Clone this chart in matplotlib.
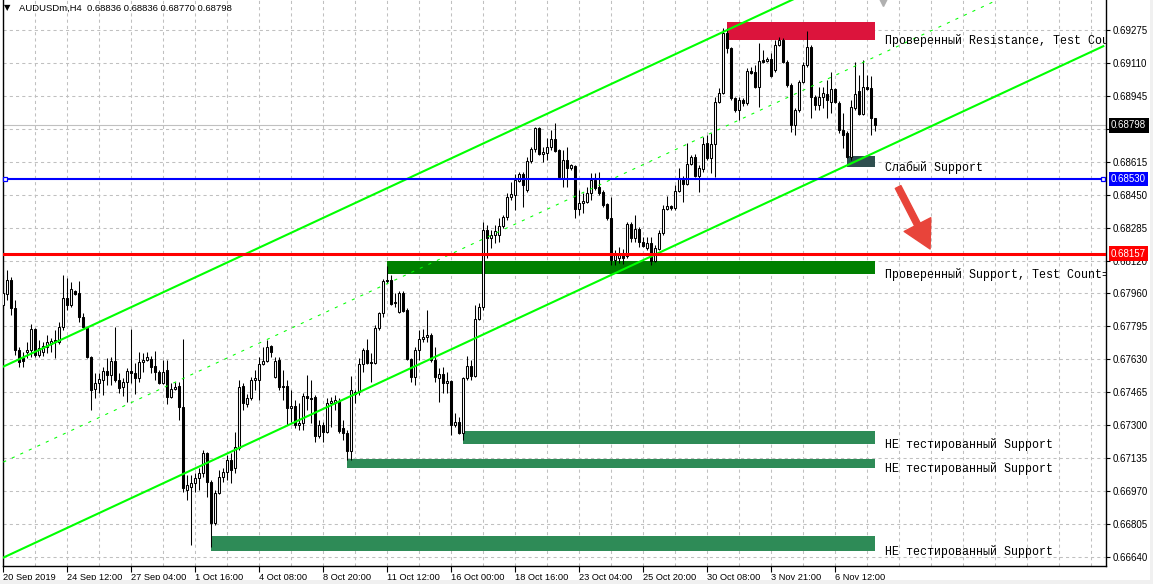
import matplotlib
matplotlib.use("Agg")
import matplotlib.pyplot as plt
from matplotlib.patches import Rectangle
from matplotlib.ticker import MultipleLocator, FixedLocator

# AUDUSDm H4 bars (bar 0 = 20 Sep 2019)
opens = [
    0.67900, 0.67955, 0.68025, 0.67885, 0.67675, 0.67635, 0.67665, 0.67675, 0.67780, 0.67650,
    0.67665, 0.67690, 0.67705, 0.67725, 0.67715, 0.67790, 0.67935, 0.67900, 0.67970, 0.67960,
    0.67840, 0.67785, 0.67640, 0.67480, 0.67510, 0.67525, 0.67570, 0.67550, 0.67620, 0.67525,
    0.67490, 0.67515, 0.67570, 0.67560, 0.67535, 0.67615, 0.67625, 0.67630, 0.67595, 0.67565,
    0.67510, 0.67575, 0.67440, 0.67480, 0.67495, 0.67390, 0.66975, 0.66990, 0.67010, 0.67035,
    0.67060, 0.67160, 0.67015, 0.66810, 0.66960, 0.67040, 0.67065, 0.67125, 0.67085, 0.67185,
    0.67495, 0.67405, 0.67435, 0.67525, 0.67525, 0.67605, 0.67620, 0.67695, 0.67540, 0.67625,
    0.67495, 0.67495, 0.67385, 0.67395, 0.67300, 0.67310, 0.67445, 0.67435, 0.67440, 0.67245,
    0.67300, 0.67265, 0.67410, 0.67410, 0.67420, 0.67285, 0.67260, 0.67170, 0.67465, 0.67465,
    0.67605, 0.67675, 0.67615, 0.67610, 0.67785, 0.67860, 0.68025, 0.68025, 0.67910, 0.67865,
    0.67960, 0.67875, 0.67630, 0.67540, 0.67675, 0.67730, 0.67740, 0.67750, 0.67625, 0.67535,
    0.67555, 0.67510, 0.67520, 0.67300, 0.67315, 0.67260, 0.67535, 0.67595, 0.67545, 0.67830,
    0.67890, 0.68275, 0.68235, 0.68250, 0.68250, 0.68295, 0.68340, 0.68440, 0.68450, 0.68520,
    0.68555, 0.68475, 0.68620, 0.68680, 0.68785, 0.68655, 0.68660, 0.68690, 0.68730, 0.68675,
    0.68535, 0.68625, 0.68585, 0.68595, 0.68380, 0.68410, 0.68415, 0.68460, 0.68525, 0.68490,
    0.68465, 0.68405, 0.68335, 0.68125, 0.68135, 0.68160, 0.68145, 0.68305, 0.68235, 0.68280,
    0.68215, 0.68185, 0.68210, 0.68120, 0.68180, 0.68260, 0.68380, 0.68395, 0.68385, 0.68470,
    0.68535, 0.68505, 0.68605, 0.68640, 0.68545, 0.68580, 0.68710, 0.68635, 0.68705, 0.68915,
    0.68960, 0.69260, 0.69185, 0.68935, 0.68875, 0.68925, 0.68910, 0.69070, 0.69065, 0.68990,
    0.69125, 0.69120, 0.69130, 0.69075, 0.69200, 0.69225, 0.69115, 0.69000, 0.68800, 0.68875,
    0.69015, 0.69100, 0.69190, 0.68940, 0.68900, 0.68940, 0.68955, 0.68915, 0.68980, 0.68910,
    0.68775, 0.68760, 0.68640, 0.68885, 0.68970, 0.68855, 0.68990, 0.68985, 0.68836,
]
highs = [
    0.68050, 0.68075, 0.68040, 0.67925, 0.67690, 0.67665, 0.67715, 0.67805, 0.67785, 0.67725,
    0.67715, 0.67750, 0.67735, 0.67775, 0.67815, 0.68050, 0.68035, 0.68015, 0.67975, 0.68020,
    0.67860, 0.67790, 0.67645, 0.67560, 0.67560, 0.67590, 0.67635, 0.67640, 0.67790, 0.67560,
    0.67535, 0.67585, 0.67780, 0.67610, 0.67665, 0.67660, 0.67665, 0.67645, 0.67670, 0.67575,
    0.67625, 0.67625, 0.67510, 0.67515, 0.67515, 0.67730, 0.67050, 0.67050, 0.67060, 0.67085,
    0.67175, 0.67165, 0.67025, 0.66975, 0.67075, 0.67085, 0.67150, 0.67160, 0.67265, 0.67525,
    0.67510, 0.67455, 0.67540, 0.67575, 0.67640, 0.67690, 0.67725, 0.67700, 0.67640, 0.67640,
    0.67575, 0.67525, 0.67475, 0.67425, 0.67410, 0.67460, 0.67550, 0.67525, 0.67450, 0.67325,
    0.67315, 0.67435, 0.67440, 0.67450, 0.67435, 0.67325, 0.67275, 0.67545, 0.67475, 0.67635,
    0.67685, 0.67730, 0.67660, 0.67800, 0.67865, 0.68030, 0.68095, 0.68050, 0.67960, 0.67970,
    0.67970, 0.67885, 0.67635, 0.67690, 0.67775, 0.67780, 0.67875, 0.67760, 0.67690, 0.67585,
    0.67590, 0.67565, 0.67525, 0.67360, 0.67340, 0.67540, 0.67645, 0.67625, 0.67900, 0.67910,
    0.68315, 0.68300, 0.68275, 0.68300, 0.68335, 0.68350, 0.68460, 0.68515, 0.68555, 0.68565,
    0.68565, 0.68640, 0.68690, 0.68790, 0.68790, 0.68690, 0.68735, 0.68775, 0.68810, 0.68680,
    0.68675, 0.68690, 0.68605, 0.68600, 0.68475, 0.68460, 0.68490, 0.68560, 0.68560, 0.68565,
    0.68475, 0.68410, 0.68440, 0.68175, 0.68190, 0.68180, 0.68315, 0.68315, 0.68350, 0.68290,
    0.68240, 0.68240, 0.68240, 0.68200, 0.68275, 0.68400, 0.68445, 0.68400, 0.68500, 0.68585,
    0.68545, 0.68710, 0.68650, 0.68655, 0.68600, 0.68740, 0.68750, 0.68760, 0.68940, 0.68985,
    0.69285, 0.69285, 0.69190, 0.68940, 0.68940, 0.68935, 0.69085, 0.69090, 0.69100, 0.69210,
    0.69175, 0.69140, 0.69160, 0.69225, 0.69240, 0.69235, 0.69125, 0.69010, 0.68885, 0.69025,
    0.69115, 0.69270, 0.69200, 0.68950, 0.68990, 0.68990, 0.69025, 0.69065, 0.68985, 0.68920,
    0.68860, 0.68770, 0.68925, 0.69115, 0.69050, 0.69125, 0.69050, 0.69045, 0.68836,
]
lows = [
    0.67775, 0.67925, 0.67850, 0.67650, 0.67590, 0.67590, 0.67635, 0.67640, 0.67640, 0.67640,
    0.67645, 0.67660, 0.67665, 0.67635, 0.67705, 0.67775, 0.67875, 0.67890, 0.67950, 0.67815,
    0.67785, 0.67635, 0.67375, 0.67435, 0.67460, 0.67450, 0.67500, 0.67500, 0.67515, 0.67460,
    0.67445, 0.67415, 0.67510, 0.67455, 0.67515, 0.67565, 0.67620, 0.67560, 0.67525, 0.67505,
    0.67505, 0.67405, 0.67435, 0.67475, 0.67325, 0.66965, 0.66925, 0.66700, 0.66965, 0.66975,
    0.67040, 0.66940, 0.66690, 0.66800, 0.66955, 0.67015, 0.67025, 0.67010, 0.67060, 0.67175,
    0.67375, 0.67390, 0.67425, 0.67475, 0.67425, 0.67600, 0.67615, 0.67640, 0.67535, 0.67475,
    0.67425, 0.67300, 0.67315, 0.67285, 0.67275, 0.67275, 0.67375, 0.67310, 0.67215, 0.67235,
    0.67215, 0.67260, 0.67290, 0.67375, 0.67260, 0.67225, 0.67125, 0.67125, 0.67410, 0.67450,
    0.67565, 0.67605, 0.67515, 0.67605, 0.67775, 0.67840, 0.68010, 0.67900, 0.67890, 0.67860,
    0.67865, 0.67625, 0.67515, 0.67500, 0.67625, 0.67715, 0.67715, 0.67615, 0.67515, 0.67415,
    0.67460, 0.67460, 0.67250, 0.67290, 0.67255, 0.67225, 0.67525, 0.67525, 0.67540, 0.67825,
    0.67875, 0.68135, 0.68185, 0.68210, 0.68215, 0.68285, 0.68325, 0.68425, 0.68375, 0.68515,
    0.68390, 0.68465, 0.68610, 0.68665, 0.68650, 0.68615, 0.68625, 0.68675, 0.68665, 0.68535,
    0.68490, 0.68490, 0.68575, 0.68335, 0.68350, 0.68360, 0.68410, 0.68425, 0.68475, 0.68450,
    0.68390, 0.68325, 0.68100, 0.68100, 0.68110, 0.68105, 0.68135, 0.68215, 0.68215, 0.68190,
    0.68190, 0.68175, 0.68100, 0.68115, 0.68175, 0.68250, 0.68375, 0.68375, 0.68375, 0.68465,
    0.68415, 0.68500, 0.68600, 0.68540, 0.68465, 0.68565, 0.68625, 0.68560, 0.68540, 0.68910,
    0.68955, 0.69160, 0.68925, 0.68865, 0.68825, 0.68895, 0.68900, 0.69055, 0.68985, 0.68890,
    0.69110, 0.69115, 0.69040, 0.69065, 0.69195, 0.69110, 0.68990, 0.68765, 0.68750, 0.68865,
    0.69010, 0.69090, 0.68835, 0.68875, 0.68875, 0.68885, 0.68835, 0.68860, 0.68910, 0.68760,
    0.68685, 0.68635, 0.68625, 0.68875, 0.68850, 0.68850, 0.68975, 0.68750, 0.68770,
]
closes = [
    0.67960, 0.68025, 0.67885, 0.67675, 0.67615, 0.67620, 0.67675, 0.67780, 0.67650, 0.67685,
    0.67695, 0.67715, 0.67720, 0.67715, 0.67790, 0.67935, 0.67900, 0.67980, 0.67955, 0.67840,
    0.67790, 0.67640, 0.67475, 0.67510, 0.67530, 0.67570, 0.67550, 0.67620, 0.67525, 0.67485,
    0.67515, 0.67570, 0.67560, 0.67535, 0.67615, 0.67625, 0.67640, 0.67590, 0.67565, 0.67510,
    0.67565, 0.67440, 0.67480, 0.67490, 0.67390, 0.66985, 0.67000, 0.67010, 0.67035, 0.67060,
    0.67160, 0.67015, 0.66810, 0.66960, 0.67040, 0.67065, 0.67125, 0.67075, 0.67190, 0.67490,
    0.67410, 0.67435, 0.67525, 0.67535, 0.67605, 0.67620, 0.67690, 0.67665, 0.67620, 0.67490,
    0.67490, 0.67385, 0.67395, 0.67300, 0.67310, 0.67445, 0.67435, 0.67430, 0.67245, 0.67300,
    0.67265, 0.67410, 0.67420, 0.67425, 0.67270, 0.67260, 0.67170, 0.67475, 0.67455, 0.67605,
    0.67675, 0.67610, 0.67610, 0.67785, 0.67860, 0.68020, 0.68020, 0.67905, 0.67915, 0.67960,
    0.67870, 0.67630, 0.67540, 0.67675, 0.67730, 0.67740, 0.67750, 0.67625, 0.67540, 0.67555,
    0.67510, 0.67520, 0.67300, 0.67315, 0.67260, 0.67535, 0.67595, 0.67545, 0.67830, 0.67890,
    0.68275, 0.68235, 0.68250, 0.68270, 0.68295, 0.68340, 0.68440, 0.68455, 0.68525, 0.68555,
    0.68500, 0.68620, 0.68680, 0.68785, 0.68655, 0.68665, 0.68690, 0.68730, 0.68670, 0.68540,
    0.68625, 0.68585, 0.68600, 0.68380, 0.68410, 0.68420, 0.68460, 0.68525, 0.68485, 0.68460,
    0.68400, 0.68335, 0.68125, 0.68160, 0.68160, 0.68135, 0.68305, 0.68235, 0.68280, 0.68215,
    0.68195, 0.68210, 0.68120, 0.68185, 0.68260, 0.68380, 0.68395, 0.68385, 0.68470, 0.68535,
    0.68505, 0.68605, 0.68640, 0.68545, 0.68585, 0.68705, 0.68635, 0.68705, 0.68915, 0.68960,
    0.69260, 0.69185, 0.68935, 0.68875, 0.68925, 0.68910, 0.69070, 0.69060, 0.68990, 0.69120,
    0.69115, 0.69130, 0.69045, 0.69200, 0.69225, 0.69115, 0.69000, 0.68800, 0.68875, 0.69015,
    0.69100, 0.69190, 0.68940, 0.68900, 0.68940, 0.68960, 0.68925, 0.68980, 0.68915, 0.68775,
    0.68750, 0.68640, 0.68890, 0.68955, 0.68855, 0.68990, 0.68980, 0.68835, 0.68798,
]

date_ticks = [0, 16, 32, 48, 64, 80, 96, 112, 128, 144, 160, 176, 192, 208]
date_labels = ["20 Sep 2019", "24 Sep 12:00", "27 Sep 04:00", "1 Oct 16:00", "4 Oct 08:00",
               "8 Oct 20:00", "11 Oct 12:00", "16 Oct 00:00", "18 Oct 16:00", "23 Oct 04:00",
               "25 Oct 20:00", "30 Oct 08:00", "3 Nov 21:00", "6 Nov 12:00"]
price_labels = ["0.69275", "0.69110", "0.68945", "0.68780", "0.68615", "0.68450", "0.68285",
                "0.68120", "0.67960", "0.67795", "0.67630", "0.67465", "0.67300", "0.67135",
                "0.66970", "0.66805", "0.66640"]

# supply / demand zones
zone_text = ["Проверенный Resistance, Test Count=2", "Слабый Support",
             "Проверенный Support, Test Count=3", "НЕ тестированный Support",
             "НЕ тестированный Support", "НЕ тестированный Support"]
zone_start = [181, 211, 96, 115, 86, 52]
zone_end = 218
zone_top = [0.69316, 0.68647, 0.68120, 0.67270, 0.67130, 0.66745]
zone_bottom = [0.69225, 0.68592, 0.68055, 0.67205, 0.67085, 0.66670]
zone_colors = ["#dc143c", "#2f4f4f", "#008000", "#2e8b57", "#2e8b57", "#2e8b57"]

# channel (bar index, price at both ends)
channel_x = [0, 275]
channel_upper = [0.67592, 0.70149]
channel_lower = [0.66637, 0.69194]

blue_level = 0.68530
red_level = 0.68157
last_price = 0.68798

W, H = 1153, 584
fig = plt.figure(figsize=(W / 100, H / 100), dpi=100)
fig.patch.set_facecolor("white")
ax = fig.add_axes([2.5 / W, 18 / H, 1103.5 / W, 566 / H])
ax.set_xlim(-0.2, 275.675)
ax.set_ylim(0.66595, 0.69425)
ax.set_facecolor("white")

for side in ["left", "right", "bottom"]:
    ax.spines[side].set_color("black")
    ax.spines[side].set_linewidth(1.0)
ax.spines["top"].set_visible(False)

# grid
ax.yaxis.tick_right()
ax.set_yticks([float(p) for p in price_labels])
ax.set_yticklabels(price_labels)
ax.xaxis.set_major_locator(FixedLocator(date_ticks))
ax.set_xticklabels(date_labels)
ax.xaxis.set_minor_locator(MultipleLocator(8))
ax.grid(True, which="both", axis="x", color="#c0c0c0", lw=0.75, ls=(0, (3, 3)), zorder=0)
ax.grid(True, which="major", axis="y", color="#c0c0c0", lw=0.75, ls=(0, (3, 3)), zorder=0)
ax.set_axisbelow(True)
ax.tick_params(axis="x", which="major", direction="out", length=4, width=0.8, pad=1,
               labelsize=6.7, colors="black")
ax.tick_params(axis="x", which="minor", length=0)
ax.tick_params(axis="y", direction="out", length=3, width=0.8, pad=2, labelsize=7)
for lab in ax.get_xticklabels() + ax.get_yticklabels():
    lab.set_fontfamily("Liberation Sans")
for lab in ax.get_xticklabels():
    lab.set_ha("left")

# zones
for s, t, b, c in zip(zone_start, zone_top, zone_bottom, zone_colors):
    ax.add_patch(Rectangle((s, b), zone_end - s, t - b, facecolor=c, edgecolor="none", zorder=1))
for txt, b in zip(zone_text, zone_bottom):
    ax.text(220.4, b - 0.00005, txt, family="Liberation Mono", fontsize=8.4, va="center",
            ha="left", color="black", clip_on=True, zorder=7)

# current price line
ax.axhline(last_price, color="#c0c0c0", lw=0.8, zorder=1.5)

# candles
idx = list(range(len(opens)))
ax.vlines(idx, lows, highs, color="black", lw=0.75, zorder=3)
bottoms = [min(o, c) for o, c in zip(opens, closes)]
heights = [max(abs(c - o), 1e-6) for o, c in zip(opens, closes)]
faces = ["white" if c >= o else "black" for o, c in zip(opens, closes)]
ax.bar(idx, heights, bottom=bottoms, width=0.55, color=faces, edgecolor="black",
       linewidth=0.75, zorder=4)

# channel
mid = [(u + l) / 2 for u, l in zip(channel_upper, channel_lower)]
ax.plot(channel_x, channel_upper, color="#00ff00", lw=1.5, zorder=5)
ax.plot(channel_x, channel_lower, color="#00ff00", lw=1.5, zorder=5)
ax.plot(channel_x, mid, color="#00ff00", lw=0.75, ls=(0, (3, 6)), zorder=5)

# horizontal levels
ax.axhline(blue_level, color="#0000ff", lw=1.5, zorder=6)
ax.plot([0.4, 274.9], [blue_level, blue_level], ls="none", marker="s", ms=3.5,
        mfc="white", mec="#0000ff", mew=0.9, zorder=6.5, clip_on=False)
ax.axhline(red_level, color="#ff0000", lw=2.2, zorder=6)

# arrow
ax.annotate("", xy=(231.7, 0.68180), xytext=(223.7, 0.68490),
            arrowprops=dict(arrowstyle="simple,head_length=1.1,head_width=1.2,tail_width=0.25",
                            color="#e8443a", mutation_scale=18, shrinkA=0, shrinkB=0),
            zorder=7)

# shift marker
ax.plot([219.9], [0.69418], marker="v", ms=7, color="#b0b0b0", ls="none", zorder=7,
        clip_on=False)

# price tags on the axis
for val, bg in [(last_price, "black"), (blue_level, "#0000ff"), (red_level, "#ff0000")]:
    ax.text(1.0045, val, f"{val:.5f}", transform=ax.get_yaxis_transform(), fontsize=7,
            family="Liberation Sans", color="white", va="center", ha="left", zorder=10,
            bbox=dict(boxstyle="square,pad=0.25", fc=bg, ec="none"), clip_on=False)

# header
fig.text(4 / W, 1 - 8 / H, "▼", fontsize=6, family="DejaVu Sans", va="center", ha="left")
fig.text(19 / W, 1 - 8 / H, "AUDUSDm,H4  0.68836 0.68836 0.68770 0.68798", fontsize=6.8,
         family="Liberation Sans", va="center", ha="left", color="black")

# window frame
fig.patches.append(Rectangle((1150 / W, 0), 3 / W, 1, transform=fig.transFigure,
                             facecolor="#f0f0f0", edgecolor="none"))
fig.patches.append(Rectangle((0, 0), 1, 4 / H, transform=fig.transFigure,
                             facecolor="#f0f0f0", edgecolor="none"))

fig.savefig("out.png", dpi=100)
